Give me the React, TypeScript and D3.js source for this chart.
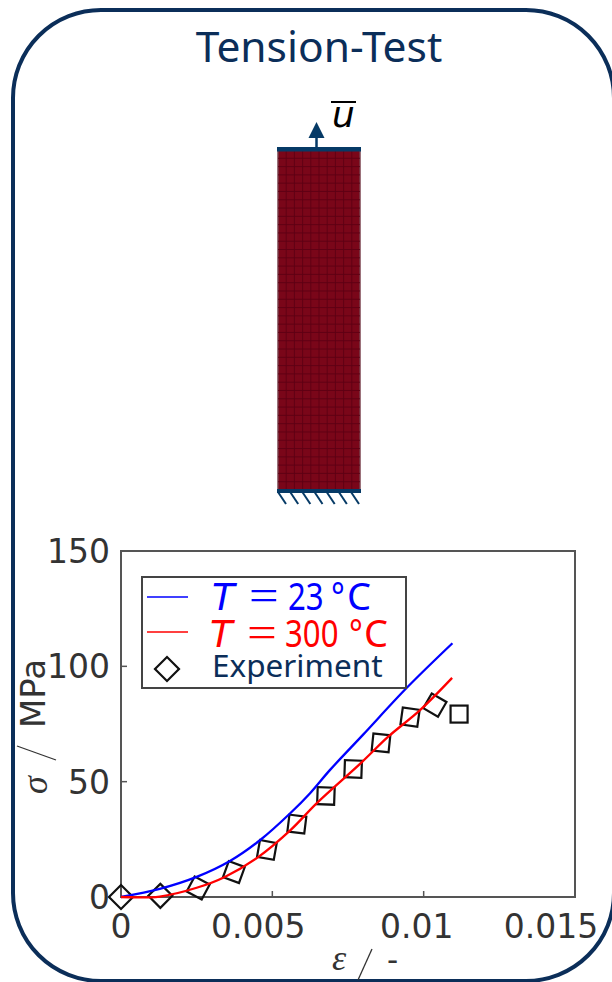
import React from "react";
import * as d3 from "d3";

const blueStrain = [0, 0.00128, 0.0025, 0.0036, 0.0046, 0.0056, 0.00624, 0.0069, 0.008, 0.00945, 0.01095];
const blueStress = [0, 3.5, 8.7, 15.6, 24.7, 36.4, 44.9, 55, 70.4, 90.8, 110];
const redStrain = [0, 0.00128, 0.0025, 0.00343, 0.00453, 0.0056, 0.00647, 0.00796, 0.00882, 0.00988, 0.01094];
const redStress = [0, 0.2, 4, 8.7, 17.3, 29, 40.7, 58.5, 69.4, 81, 95];
const expStrain = [0, 0.0013, 0.00255, 0.00373, 0.00482, 0.00581, 0.00677, 0.00767, 0.00859, 0.00955, 0.01037, 0.01117];
const expStress = [0, 0.5, 3.9, 10.8, 20.4, 31.6, 43.8, 55.5, 66.8, 78, 83.2, 79.3];
const expAngle = [45, 45, 28, 20, 10, 7, 2, 2, 6, 8, 30, 0];
const xTicks = [0, 0.005, 0.01, 0.015];
const xTickLabels = ["0", "0.005", "0.01", "0.015"];
const xTickShift = [0, -14, -7, -24];
const yTicks = [0, 50, 100, 150];
const meshCols = d3.range(0, 11);
const meshRows = d3.range(0, 42);
const hatches = d3.range(0, 7);

const NAVY = "#0b2e59";
const BAR = "#063a66";
const INK = "#333333";
const DJ = "'DejaVu Sans', sans-serif";
const NOTO = "'Noto Sans', 'Open Sans', sans-serif";
const SERIF = "'Liberation Serif', serif";

const x = d3.scaleLinear().domain([0, 0.015]).range([121, 575]);
const y = d3.scaleLinear().domain([0, 150]).range([897, 551]);
const mx = d3.scaleLinear().domain([0, 10]).range([278, 360]);
const my = d3.scaleLinear().domain([0, 41]).range([150, 490]);
const hx = d3.scaleLinear().domain([0, 6]).range([278, 351]);

const line = d3.line<number>().curve(d3.curveCatmullRom.alpha(0.5));
const path = (xs: number[], ys: number[]) =>
  line.x((_, i) => x(xs[i])).y((_, i) => y(ys[i]))(xs) ?? "";

function LegendEntry({ top, color, tx, eq, num, label, deg, c }: any) {
  return (
    <g fill={color}>
      <text x={tx} y={top} fontFamily={DJ} fontStyle="italic" fontSize={37}>T</text>
      <text transform={`translate(${eq},${top}) scale(1.2,1)`} fontFamily={SERIF} fontSize={44}>=</text>
      <text transform={`translate(${num},${top}) scale(0.82,1)`} fontFamily={NOTO} fontSize={38}>{label}</text>
      <text transform={`translate(${deg},${top}) scale(0.85,1)`} fontFamily={NOTO} fontSize={38}>°</text>
      <text x={c} y={top} fontFamily={NOTO} fontSize={38}>C</text>
    </g>
  );
}

export default function App() {
  return (
    <svg width={612} height={982} style={{ position: "absolute", left: 0, top: 0, display: "block" }}>
      <rect x={0} y={0} width={612} height={982} fill="#fff" />
      <rect x={13} y={10} width={601} height={971} rx={88} ry={88} fill="#fff" stroke={NAVY} strokeWidth={4} />
      <text x={319} y={62} textAnchor="middle" fontFamily={NOTO} fontSize={42.5} fill={NAVY}>Tension-Test</text>

      {/* specimen */}
      <rect x={278} y={150} width={82} height={340} fill="#7a0619" stroke="#a0a0a0" strokeWidth={1} />
      {meshCols.map((c) => (
        <line key={c} x1={mx(c)} x2={mx(c)} y1={150} y2={490} stroke="#5e0014" strokeWidth={0.9} />
      ))}
      {meshRows.map((r) => (
        <line key={r} x1={278} x2={360} y1={my(r)} y2={my(r)} stroke="#5e0014" strokeWidth={0.9} />
      ))}
      <rect x={277} y={147} width={84} height={4.5} fill={BAR} />
      <line x1={316.5} x2={316.5} y1={134} y2={148} stroke={BAR} strokeWidth={2.5} />
      <path d="M316.5,122 L324.5,138 L308.5,138 Z" fill={BAR} />
      <line x1={331} x2={356} y1={102} y2={102} stroke="#000" strokeWidth={2} />
      <text x={332} y={127} fontFamily={DJ} fontStyle="italic" fontSize={36} fill="#000">u</text>
      <rect x={277} y={489} width={84} height={4} fill={BAR} />
      {hatches.map((h) => (
        <line key={h} x1={hx(h)} y1={492} x2={hx(h) + 8} y2={504} stroke={BAR} strokeWidth={2} />
      ))}

      {/* axes */}
      <path d="M121,551 H575 V897 H121 Z" fill="none" stroke="#555" strokeWidth={2} />
      {xTicks.map((t, i) => (
        <g key={t}>
          {i > 0 && i < 3 && <line x1={x(t)} x2={x(t)} y1={897} y2={891} stroke="#555" strokeWidth={1.5} />}
          <text x={x(t) + xTickShift[i]} y={938} textAnchor="middle" fontFamily={DJ} fontSize={33} fill={INK}>
            {xTickLabels[i]}
          </text>
        </g>
      ))}
      {yTicks.map((t) => (
        <g key={t}>
          {t > 0 && t < 150 && <line x1={121} x2={127} y1={y(t)} y2={y(t)} stroke="#555" strokeWidth={1.5} />}
          <text x={110} y={y(t) + 12} textAnchor="end" fontFamily={DJ} fontSize={33} fill={INK}>{t}</text>
        </g>
      ))}

      {/* y label */}
      <text transform="translate(47,794) rotate(-90)" fontFamily={SERIF} fontStyle="italic" fontSize={36} fill={INK}>σ</text>
      <line x1={17} y1={746} x2={56} y2={760} stroke={INK} strokeWidth={1.3} />
      <text transform="translate(45,728) rotate(-90)" fontFamily={DJ} fontSize={34} fill={INK}>MPa</text>

      {/* x label */}
      <text x={332} y={970} fontFamily={SERIF} fontStyle="italic" fontSize={36} fill={INK}>ε</text>
      <line x1={358} y1={980} x2={372} y2={949} stroke={INK} strokeWidth={1.3} />
      <text x={387} y={970} fontFamily={DJ} fontSize={31} fill={INK}>-</text>

      {/* markers */}
      {expStrain.map((s, i) => (
        <rect key={i} x={-8.5} y={-8.5} width={17} height={17} fill="none" stroke="#111" strokeWidth={2.2}
          transform={`translate(${x(s)},${y(expStress[i])}) rotate(${expAngle[i]})`} />
      ))}

      {/* curves */}
      <path d={path(blueStrain, blueStress)} fill="none" stroke="#0000ff" strokeWidth={2.3} />
      <path d={path(redStrain, redStress)} fill="none" stroke="#ff0000" strokeWidth={2.3} />

      {/* legend */}
      <rect x={142} y={577} width={264} height={111} fill="#fff" stroke="#444" strokeWidth={2} />
      <line x1={147} x2={188} y1={597} y2={597} stroke="#0000ff" strokeWidth={1.6} />
      <line x1={147} x2={188} y1={632} y2={632} stroke="#ff0000" strokeWidth={1.6} />
      <rect x={-8.5} y={-8.5} width={17} height={17} fill="#fff" stroke="#111" strokeWidth={2.2}
        transform="translate(167,669) rotate(45)" />
      <LegendEntry top={610} color="#0000ff" tx={212} eq={249} num={288} label="23" deg={331} c={347} />
      <LegendEntry top={647} color="#ff0000" tx={210} eq={247} num={285} label="300" deg={349} c={364} />
      <text x={212} y={677} fontFamily={NOTO} fontSize={31.5} fill={NAVY}>Experiment</text>
    </svg>
  );
}
